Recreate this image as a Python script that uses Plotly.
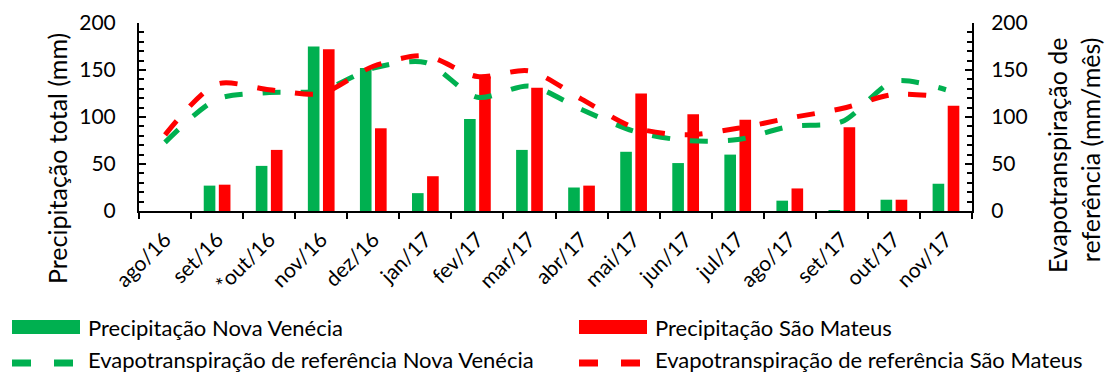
import plotly.graph_objects as go

months = ["ago/16", "set/16", "*out/16", "nov/16", "dez/16", "jan/17", "fev/17", "mar/17",
          "abr/17", "mai/17", "jun/17", "jul/17", "ago/17", "set/17", "out/17", "nov/17"]
prec_nova_venecia = [0, 27, 48, 175, 152, 19, 98, 65, 25, 63, 51, 60, 11, 1, 12, 29]
prec_sao_mateus = [0, 28, 65, 172, 88, 37, 143, 131, 27, 125, 103, 97, 24, 89, 12, 112]
et0_nova_venecia = [73, 119, 126, 128, 152, 158, 121, 133, 108, 85, 75, 76, 90, 95, 138, 129]
et0_sao_mateus = [81, 135, 129, 125, 154, 165, 143, 149, 119, 89, 81, 88, 99, 109, 124, 121]

GREEN = "#00B050"
RED = "#FF0000"
FONT = "Lato"

W, H = 1105, 374
L, R, T, B = 139, 972, 23, 211

fig = go.Figure()
fig.add_trace(go.Bar(x=months, y=prec_nova_venecia, name="Precipitação Nova Venécia",
                     marker=dict(color=GREEN, line=dict(width=0)), showlegend=False))
fig.add_trace(go.Bar(x=months, y=prec_sao_mateus, name="Precipitação São Mateus",
                     marker=dict(color=RED, line=dict(width=0)), showlegend=False))
fig.add_trace(go.Scatter(x=months, y=et0_nova_venecia, yaxis="y2", mode="lines",
                         name="Evapotranspiração de referência Nova Venécia",
                         line=dict(color=GREEN, width=5, dash="18px,20px", shape="spline", smoothing=0.8),
                         showlegend=False))
fig.add_trace(go.Scatter(x=months, y=et0_sao_mateus, yaxis="y2", mode="lines",
                         name="Evapotranspiração de referência São Mateus",
                         line=dict(color=RED, width=5, dash="18px,20px", shape="spline", smoothing=0.8),
                         showlegend=False))

def px2x(px):
    return (px - L) / (R - L)

def py2y(py):
    return (B - py) / (B - T)

shapes = []
annotations = []
# legend: bars
for x0, x1, col in [(12, 80, GREEN), (579, 647, RED)]:
    shapes.append(dict(type="rect", xref="paper", yref="paper",
                       x0=px2x(x0), x1=px2x(x1), y0=py2y(334), y1=py2y(320),
                       fillcolor=col, line=dict(width=0)))
# legend: dashed lines
for segs, col in [([(12, 31), (54, 73)], GREEN), ([(579, 598), (621, 640)], RED)]:
    for a, b in segs:
        shapes.append(dict(type="line", xref="paper", yref="paper",
                           x0=px2x(a), x1=px2x(b), y0=py2y(363), y1=py2y(363),
                           line=dict(color=col, width=7)))
legend_texts = [(86, 327, "Precipitação Nova Venécia"),
                (653, 327, "Precipitação São Mateus"),
                (86, 360, "Evapotranspiração de referência Nova Venécia"),
                (653, 360, "Evapotranspiração de referência São Mateus")]
for x, y, t in legend_texts:
    annotations.append(dict(text=t, xref="paper", yref="paper", x=px2x(x), y=py2y(y),
                            xanchor="left", yanchor="middle", showarrow=False,
                            font=dict(family=FONT, size=22, color="#000000")))

title_font = dict(family=FONT, size=25, color="#000000")
annotations.append(dict(text="Precipitação total (mm)", xref="paper", yref="paper",
                        x=px2x(57), y=py2y(159), xanchor="center", yanchor="middle",
                        textangle=-90, showarrow=False, font=title_font))
annotations.append(dict(text="Evapotranspiração de<br>referência (mm/mês)", xref="paper", yref="paper",
                        x=px2x(1073), y=py2y(156), xanchor="center", yanchor="middle",
                        textangle=-90, align="right", showarrow=False, font=title_font))

tick_font = dict(family=FONT, size=21, color="#000000")
fig.update_layout(
    width=W, height=H,
    margin=dict(l=L, r=W - R, t=T, b=H - B, pad=0),
    plot_bgcolor="white", paper_bgcolor="white",
    barmode="group", bargap=0.42, bargroupgap=0.23,
    font=tick_font,
    shapes=shapes, annotations=annotations,
    xaxis=dict(type="category", range=[-0.5, 15.5], showline=True, linecolor="black", linewidth=2,
               ticks="outside", tickson="boundaries", ticklen=6, tickwidth=2, tickcolor="black",
               tickangle=-45, tickfont=tick_font, showgrid=False, zeroline=False, automargin=False,
               ticklabelstandoff=6),
    yaxis=dict(range=[0, 200], dtick=50, showline=True, linecolor="black", linewidth=2,
               ticks="inside", ticklen=7, tickwidth=2, tickcolor="black",
               minor=dict(dtick=10, ticks="inside", ticklen=5, tickwidth=2, tickcolor="black"),
               showgrid=False, zeroline=False, tickfont=tick_font, automargin=False,
               ticklabelstandoff=17),
    yaxis2=dict(range=[0, 200], dtick=50, overlaying="y", side="right", showline=True,
                linecolor="black", linewidth=2,
                ticks="inside", ticklen=7, tickwidth=2, tickcolor="black",
                minor=dict(dtick=10, ticks="inside", ticklen=5, tickwidth=2, tickcolor="black"),
                showgrid=False, zeroline=False, tickfont=tick_font, automargin=False,
                ticklabelstandoff=13),
)

fig.write_html("out.html", config={"displayModeBar": False},
               post_script="document.body.style.margin='0px';document.body.style.overflow='hidden';")
